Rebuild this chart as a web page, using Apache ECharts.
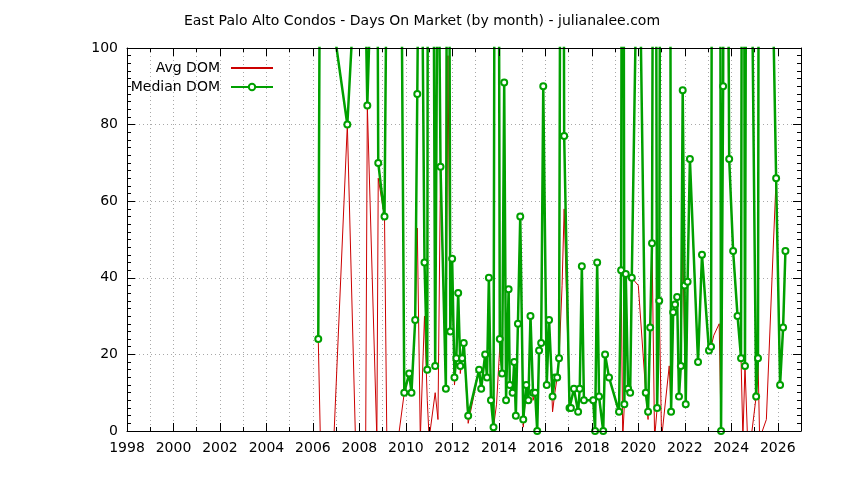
<!DOCTYPE html>
<html>
<head>
<meta charset="utf-8">
<script src="https://cdn.jsdelivr.net/npm/echarts@6/dist/echarts.min.js"></script>
<style>
html,body{margin:0;padding:0;background:#fff;}
#chart{width:844px;height:480px;}
</style>
</head>
<body>
<div id="chart"></div>
<script>
const monthYears = [
 2006.23, 2006.32, 2006.90, 2007.48, 2007.83, 2008.27, 2008.34, 2008.75, 2008.81, 2009.08,
 2009.18, 2009.67, 2009.93, 2010.14, 2010.24, 2010.40, 2010.49, 2010.62, 2010.80, 2010.92,
 2011.00, 2011.26, 2011.38, 2011.49, 2011.72, 2011.81, 2011.91, 2011.99, 2012.09, 2012.17,
 2012.25, 2012.34, 2012.42, 2012.49, 2012.68, 2013.15, 2013.24, 2013.41, 2013.49, 2013.57,
 2013.66, 2013.77, 2013.90, 2014.04, 2014.14, 2014.23, 2014.31, 2014.42, 2014.47, 2014.59,
 2014.66, 2014.73, 2014.82, 2014.92, 2015.05, 2015.18, 2015.27, 2015.36, 2015.47, 2015.56,
 2015.65, 2015.73, 2015.82, 2015.91, 2016.06, 2016.16, 2016.31, 2016.41, 2016.51, 2016.59,
 2016.72, 2016.81, 2017.04, 2017.10, 2017.23, 2017.41, 2017.48, 2017.57, 2017.66, 2018.06,
 2018.14, 2018.23, 2018.31, 2018.49, 2018.57, 2018.74, 2019.17, 2019.26, 2019.33, 2019.40,
 2019.46, 2019.56, 2019.65, 2019.72, 2020.00, 2020.32, 2020.42, 2020.51, 2020.59, 2020.70,
 2020.81, 2020.90, 2021.00, 2021.33, 2021.41, 2021.50, 2021.58, 2021.67, 2021.75, 2021.83,
 2021.91, 2021.99, 2022.04, 2022.12, 2022.22, 2022.57, 2022.74, 2023.04, 2023.13, 2023.25,
 2023.48, 2023.56, 2023.65, 2023.73, 2023.91, 2024.08, 2024.27, 2024.42, 2024.50, 2024.59,
 2024.70, 2024.85, 2025.07, 2025.15, 2025.22, 2025.51, 2025.80, 2025.93, 2026.10, 2026.23,
 2026.33
];
// Median days on market (values above 100 run off the top of the plot)
const medianDom = [
 24, 160, 105, 80, 120, 110, 85, 170, 70, 56,
 130, 250, 10, 15, 10, 29, 88, 180, 44, 16,
 430, 17, 150, 69, 11, 280, 26, 45, 14, 19,
 36, 17, 19, 23, 4, 16, 11, 20, 14, 40,
 8, 1, 400, 24, 15, 91, 8, 37, 12, 10,
 18, 4, 28, 56, 3, 12, 8, 30, 10, 10,
 0, 21, 23, 90, 12, 29, 9, 14, 14, 19,
 300, 77, 6, 6, 11, 5, 11, 43, 8, 8,
 0, 44, 9, 0, 20, 14, 5, 42, 300, 7,
 41, 11, 10, 40, 150, 10, 5, 27, 49, 300,
 6, 34, 300, 300, 5, 31, 33, 35, 9, 17,
 89, 38, 7, 39, 71, 18, 46, 21, 22, 400,
 300, 0, 90, 300, 71, 47, 30, 19, 300, 17,
 300, 143, 9, 19, 300, 300, 110, 66, 12, 27,
 47
];
// Average days on market (runs below the bottom edge where it drops out of view)
const avgDom = [
 24, -2, -2, 80, -2, -2, 85, -2, 66, 56,
 -2, -2, 10, 15, 10, 29, 53, -2, 30, 8,
 -2, 10, 3, 69, 11, 98, 26, 45, 12, 19,
 36, 15, 19, 23, 2, 16, 11, 20, 14, 40,
 8, 1, 7, 22, 15, 91, 8, 37, 12, 10,
 18, 4, 28, 56, 1, 12, 8, 30, 8, 10,
 0, 21, 23, 90, 12, 29, 5, 10, 14, 19,
 38, 58, 6, 6, 11, 5, 11, 43, 8, 8,
 0, 44, 9, 0, 20, 14, 5, 42, -2, 7,
 41, 11, 10, 40, 38, 10, 3, 27, 49, -2,
 6, 34, -2, 17, 5, 31, 33, 35, 9, 17,
 50, 22, 7, 39, 71, 18, 46, 21, 22, 25,
 28, 0, 90, 200, 71, 47, 30, 19, -2, 17,
 -2, -2, 9, 19, -2, 3, 47, 66, 12, 27,
 47
];
const yearTickLabels = [1998, 2000, 2002, 2004, 2006, 2008, 2010, 2012, 2014, 2016, 2018, 2020, 2022, 2024, 2026];
const titleText = 'East Palo Alto Condos - Days On Market (by month) - julianalee.com';

const FONT = 'DejaVu Sans';
const FS = 14;
const gridLine = {show: true, lineStyle: {color: '#a8a8a8', width: 1, type: [1, 3]}};
const blackLine = {show: true, lineStyle: {color: '#000', width: 1}};
function tick(len) { return {show: true, inside: true, length: len, lineStyle: {color: '#000'}}; }
function xAx(pos, opts) {
  return Object.assign({
    type: 'value', min: 1998, max: 2027, position: pos,
    axisLine: {show: false}, splitLine: {show: false},
    axisLabel: {show: false}, axisTick: {show: false}, z: 10
  }, opts);
}
const xAxes = [
  // grid lines + labels (behind the data)
  xAx('bottom', {interval: 1, splitLine: gridLine, z: 0,
    axisLabel: {show: true, color: '#000', fontSize: FS, fontFamily: FONT, margin: 10,
      formatter: v => yearTickLabels.includes(v) ? String(v) : ''}}),
  // border and tics (in front)
  xAx('bottom', {interval: 1, axisLine: blackLine, axisTick: tick(4)}),
  xAx('bottom', {interval: 2, axisTick: tick(8)}),
  xAx('top', {interval: 1, axisLine: blackLine, axisTick: tick(4)}),
  xAx('top', {interval: 2, axisTick: tick(8)})
];
function yAx(pos, opts) {
  return Object.assign({
    type: 'value', min: 0, max: 100, interval: 20, position: pos,
    axisLine: blackLine, axisTick: tick(8),
    minorTick: {show: true, splitNumber: 10, length: 4, lineStyle: {color: '#000'}},
    splitLine: {show: false}, axisLabel: {show: false}, z: 10
  }, opts);
}
const yAxes = [
  yAx('left', {axisLine: {show: false}, axisTick: {show: false}, minorTick: {show: false},
    splitLine: gridLine, z: 0,
    axisLabel: {show: true, color: '#000', fontSize: FS, fontFamily: FONT, margin: 9}}),
  yAx('left', {}),
  yAx('right', {})
];
const avgData = monthYears.map((x, i) => [x, avgDom[i]]);
const medData = monthYears.map((x, i) => [x, medianDom[i]]);

const chart = echarts.init(document.getElementById('chart'), null, {renderer: 'canvas'});
chart.setOption({
  animation: false,
  backgroundColor: '#fff',
  title: {text: titleText, left: 'center', top: 9,
    textStyle: {fontFamily: FONT, fontSize: FS, fontWeight: 'normal', color: '#000'}},
  legend: [
    {data: ['Avg DOM'], orient: 'vertical', align: 'right', right: 570, top: 61, padding: 0,
     itemWidth: 42, itemHeight: 8, itemStyle: {opacity: 0},
     textStyle: {fontFamily: FONT, fontSize: FS, color: '#000', padding: [0, 6, 0, 0]}},
    {data: ['Median DOM'], orient: 'vertical', align: 'right', right: 570, top: 80, padding: 0,
     itemWidth: 42, itemHeight: 8,
     textStyle: {fontFamily: FONT, fontSize: FS, color: '#000', padding: [0, 6, 0, 0]}}
  ],
  grid: {left: 127, right: 43, top: 48, bottom: 49, containLabel: false},
  xAxis: xAxes,
  yAxis: yAxes,
  series: [
    {name: 'Avg DOM', type: 'line', data: avgData, xAxisIndex: 0, yAxisIndex: 0,
     symbol: 'none', clip: true, z: 2,
     lineStyle: {color: '#cc0000', width: 1}, itemStyle: {color: '#cc0000'}},
    {name: 'Median DOM', type: 'line', data: medData, xAxisIndex: 0, yAxisIndex: 0,
     symbol: 'emptyCircle', symbolSize: 6, showSymbol: true, clip: true, z: 3,
     lineStyle: {color: '#00a000', width: 2.5},
     itemStyle: {color: '#00a000', borderColor: '#00a000', borderWidth: 1.5}}
  ]
});
</script>
</body>
</html>
